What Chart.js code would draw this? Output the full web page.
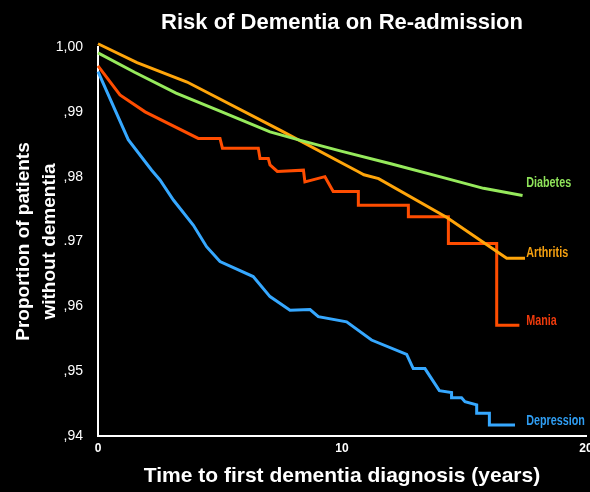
<!DOCTYPE html>
<html>
<head>
<meta charset="utf-8">
<title>Risk of Dementia on Re-admission</title>
<script src="https://cdn.jsdelivr.net/npm/chart.js@4/dist/chart.umd.min.js"></script>
<style>
  html, body { margin: 0; padding: 0; background: #000; }
  canvas { display: block; }
</style>
</head>
<body>
<canvas id="myChart" width="590" height="492"></canvas>
<script>
// DATA (years, proportion without dementia)
var diabetesX = [0, 1.5, 3.2, 5.0, 7.05, 8.3, 10, 12, 14, 15.8, 17.4];
var diabetesY = [0.9991, 0.9961, 0.9929, 0.9901, 0.9869, 0.9856, 0.9839, 0.9820, 0.9800, 0.9782, 0.9771];

var arthritisX = [0, 1.6, 3.65, 7.5, 10.65, 10.9, 11.5, 14.3, 16.75, 17.5];
var arthritisY = [1.0005, 0.9976, 0.9946, 0.9871, 0.9808, 0.9803, 0.9797, 0.9737, 0.9674, 0.9674];

var maniaX = [0, 0.9, 1.93, 4.11, 5.0, 5.1, 6.57, 6.64, 6.98, 7.05, 7.35, 8.42, 8.48, 9.3, 9.64, 10.67, 10.67, 12.72, 12.72, 14.36, 14.36, 16.34, 16.34, 17.27];
var maniaY = [0.9971, 0.9926, 0.9900, 0.9859, 0.9859, 0.9844, 0.9844, 0.9828, 0.9828, 0.9818, 0.9808, 0.9810, 0.9792, 0.9800, 0.9777, 0.9777, 0.9756, 0.9756, 0.9738, 0.9738, 0.9697, 0.9697, 0.9571, 0.9571];

var depressionX = [0, 1.24, 2.2, 2.54, 3.09, 3.91, 4.45, 5.0, 6.36, 7.05, 7.87, 8.69, 9.03, 10.19, 11.21, 12.65, 12.92, 13.4, 13.99, 14.49, 14.49, 14.9, 15.04, 15.52, 15.52, 16.04, 16.04, 17.09];
var depressionY = [0.9962, 0.9857, 0.9810, 0.9795, 0.9764, 0.9725, 0.9692, 0.9669, 0.9646, 0.9615, 0.9594, 0.9595, 0.9584, 0.9576, 0.9548, 0.9526, 0.9504, 0.9504, 0.9470, 0.9467, 0.9459, 0.9459, 0.9453, 0.9448, 0.9435, 0.9435, 0.9417, 0.9417];

var seriesNames = ["Diabetes", "Arthritis", "Mania", "Depression"];

var xTicks = [0, 10, 20];
var yTicks = [0.94, 0.95, 0.96, 0.97, 0.98, 0.99, 1.00];
var yTickLabels = [",94", ",95", ",96", ".97", ",98", ",99", "1,00"];

var labelX = 17.55;

function toPoints(xs, ys) {
    return xs.map(function (x, i) { return { x: x, y: ys[i] }; });
}

// draws the series names at the end of each line (squeezed, like a condensed face)
var endLabels = {
    id: 'endLabels',
    afterDatasetsDraw: function (chart) {
        var ctx = chart.ctx;
        var px = chart.scales.x.getPixelForValue(labelX);
        chart.data.datasets.forEach(function (ds, i) {
            var meta = chart.getDatasetMeta(i);
            var last = meta.data[meta.data.length - 1];
            ctx.save();
            ctx.translate(px, last.y + ds.labelDy);
            ctx.scale(0.77, 1);
            ctx.font = "bold 14px 'Liberation Sans', Arial, sans-serif";
            ctx.textAlign = 'left';
            ctx.textBaseline = 'alphabetic';
            ctx.fillStyle = ds.labelColor;
            ctx.fillText(ds.label, 0, 0);
            ctx.restore();
        });
    }
};

Chart.defaults.font.family = "'Liberation Sans', Arial, sans-serif";
Chart.defaults.color = '#fff';

var ctx = document.getElementById('myChart').getContext('2d');
var chart = new Chart(ctx, {
    type: 'line',

    data: {
        datasets: [{
            label: seriesNames[0],
            data: toPoints(diabetesX, diabetesY),
            borderColor: '#96ea5c',
            labelColor: '#8fe35a',
            labelDy: -8
        }, {
            label: seriesNames[1],
            data: toPoints(arthritisX, arthritisY),
            borderColor: '#ffa50a',
            labelColor: '#f5a010',
            labelDy: -1
        }, {
            label: seriesNames[2],
            data: toPoints(maniaX, maniaY),
            borderColor: '#ff4d00',
            labelColor: '#ee3a0c',
            labelDy: 0
        }, {
            label: seriesNames[3],
            data: toPoints(depressionX, depressionY),
            borderColor: '#36a8ff',
            labelColor: '#2f9df2',
            labelDy: 0
        }]
    },

    options: {
        responsive: false,
        animation: false,
        layout: { padding: { top: 0, right: 4, bottom: 0, left: 0 } },
        elements: {
            line: { borderWidth: 3, tension: 0, fill: false },
            point: { radius: 0, hoverRadius: 0 }
        },
        datasets: { line: { clip: false } },
        plugins: {
            legend: { display: false },
            tooltip: { enabled: false },
            title: {
                display: true,
                fullSize: false,
                text: 'Risk of Dementia on Re-admission',
                color: '#fff',
                font: { size: 22, weight: 'bold' },
                padding: { top: 10, bottom: 10.6 }
            }
        },
        scales: {
            x: {
                type: 'linear',
                min: 0,
                max: 20,
                afterBuildTicks: function (scale) {
                    scale.ticks = xTicks.map(function (v) { return { value: v }; });
                },
                afterFit: function (scale) {
                    scale.height = 56;
                    scale.paddingLeft = 0;
                    scale.paddingRight = 0;
                },
                grid: { display: false, drawTicks: false },
                border: { display: true, color: '#fff', width: 2 },
                ticks: {
                    color: '#fff',
                    font: { size: 12, weight: 'bold' },
                    padding: 5,
                    maxRotation: 0
                },
                title: {
                    display: true,
                    text: 'Time to first dementia diagnosis (years)',
                    color: '#fff',
                    font: { size: 21, weight: 'bold' },
                    padding: { top: 0, bottom: 3 }
                }
            },
            y: {
                type: 'linear',
                min: 0.94,
                max: 1.00,
                afterBuildTicks: function (scale) {
                    scale.ticks = yTicks.map(function (v) { return { value: v }; });
                },
                afterFit: function (scale) {
                    scale.width = 98;
                    scale.paddingTop = 0;
                    scale.paddingBottom = 0;
                },
                grid: { display: false, drawTicks: false },
                border: { display: true, color: '#fff', width: 2 },
                ticks: {
                    color: '#fff',
                    font: { size: 14 },
                    padding: 15,
                    callback: function (value, index) { return yTickLabels[index]; }
                },
                title: {
                    display: true,
                    text: ['Proportion of patients', 'without dementia'],
                    color: '#fff',
                    font: { size: 19, weight: 'bold', lineHeight: 1.37 },
                    padding: { top: 11, bottom: 0 }
                }
            }
        }
    },

    plugins: [endLabels]
});
</script>
</body>
</html>
